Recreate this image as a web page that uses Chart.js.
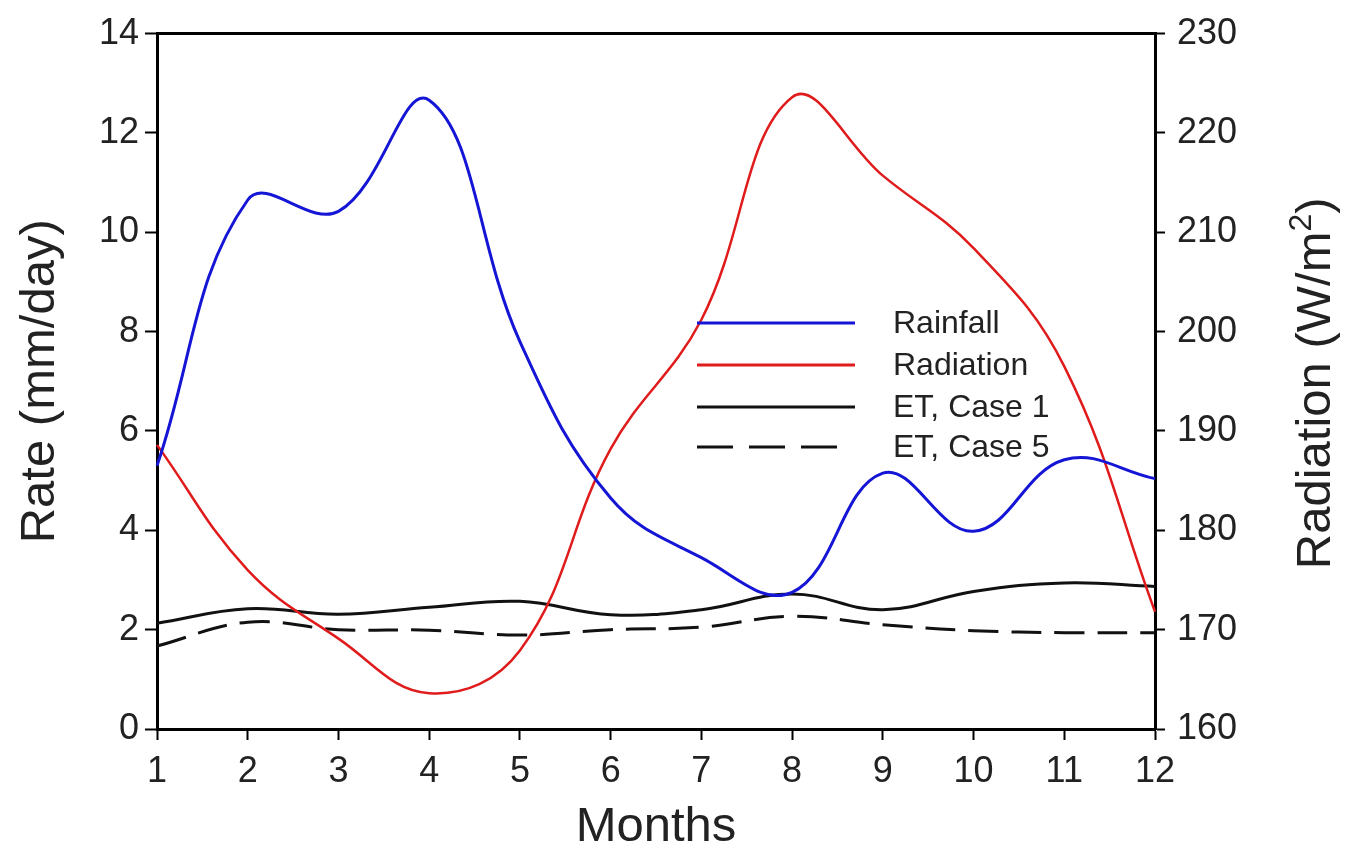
<!DOCTYPE html>
<html>
<head>
<meta charset="utf-8">
<script src="https://cdn.jsdelivr.net/npm/chart.js@4.4.0/dist/chart.umd.min.js"></script>
<style>
  html, body { margin: 0; padding: 0; background: #fff; }
  #wrap { width: 1356px; height: 852px; }
</style>
</head>
<body>
<div id="wrap"><canvas id="chart" width="1356" height="852"></canvas></div>
<script>
// months on the x axis
const months = ["1", "2", "3", "4", "5", "6", "7", "8", "9", "10", "11", "12"];

const rainfall = [5.3, 10.65, 10.42, 12.66, 7.8, 4.65, 3.45, 2.75, 5.15, 3.98, 5.42, 5.04];
const radiation = [188.6, 176.0, 169.1, 163.6, 167.9, 188.2, 201.2, 223.6, 215.7, 208.4, 196.5, 171.8];
const etCase1 = [2.13, 2.42, 2.31, 2.45, 2.57, 2.3, 2.4, 2.72, 2.4, 2.77, 2.94, 2.87];
const etCase5 = [1.67, 2.15, 2.0, 1.99, 1.89, 2.0, 2.05, 2.27, 2.1, 1.98, 1.94, 1.94];

const FONT = "'Liberation Sans', Arial, Helvetica, sans-serif";

// legend drawn inside the plot area
const innerLegend = {
  id: "innerLegend",
  afterDraw(chart) {
    const ctx = chart.ctx;
    const rows = [323, 365, 407, 447];
    ctx.save();
    chart.data.datasets.forEach((ds, i) => {
      const y = rows[i];
      ctx.beginPath();
      ctx.strokeStyle = ds.borderColor;
      ctx.lineWidth = 3;
      ctx.setLineDash(ds.borderDash ? [36, 16] : []);
      ctx.moveTo(697, y);
      ctx.lineTo(ds.borderDash ? 838 : 855, y);
      ctx.stroke();
      ctx.setLineDash([]);
      ctx.fillStyle = "#222";
      ctx.font = "32px " + FONT;
      ctx.textBaseline = "middle";
      ctx.fillText(ds.label, 893, y + 1);
    });
    ctx.restore();
  }
};

// top edge of the frame + right axis title (reads bottom to top)
const frameAndTitle = {
  id: "frameAndTitle",
  afterDraw(chart) {
    const a = chart.chartArea;
    const ctx = chart.ctx;
    ctx.save();
    ctx.strokeStyle = "#000";
    ctx.lineWidth = 3;
    ctx.beginPath();
    ctx.moveTo(a.left - 1, a.top);
    ctx.lineTo(a.right + 1, a.top);
    ctx.stroke();

    ctx.translate(1316, (a.top + a.bottom) / 2 + 2);
    ctx.rotate(-Math.PI / 2);
    ctx.fillStyle = "#222";
    ctx.textBaseline = "middle";
    ctx.font = "49px " + FONT;
    const main = "Radiation (W/m";
    const sup = "2";
    const close = ")";
    ctx.font = "49px " + FONT;
    const wMain = ctx.measureText(main).width;
    const wClose = ctx.measureText(close).width;
    ctx.font = "32px " + FONT;
    const wSup = ctx.measureText(sup).width;
    let x = -(wMain + wSup + wClose) / 2;
    ctx.font = "49px " + FONT;
    ctx.textAlign = "left";
    ctx.fillText(main, x, 0);
    x += wMain;
    ctx.font = "32px " + FONT;
    ctx.fillText(sup, x, -14);
    x += wSup;
    ctx.font = "49px " + FONT;
    ctx.fillText(close, x, 0);
    ctx.restore();
  }
};

const tickFont = { family: FONT, size: 36 };
const titleFont = { family: FONT, size: 49, lineHeight: 1 };

new Chart(document.getElementById("chart"), {
  type: "line",
  data: {
    labels: months,
    datasets: [
      { label: "Rainfall", data: rainfall, yAxisID: "y", borderColor: "#1515d6", borderWidth: 3, pointRadius: 0, tension: 0.4, fill: false },
      { label: "Radiation", data: radiation, yAxisID: "y1", borderColor: "#e01b1b", borderWidth: 2.5, pointRadius: 0, tension: 0.4, fill: false },
      { label: "ET, Case 1", data: etCase1, yAxisID: "y", borderColor: "#111", borderWidth: 3, pointRadius: 0, tension: 0.4, fill: false },
      { label: "ET, Case 5", data: etCase5, yAxisID: "y", borderColor: "#111", borderWidth: 3, borderDash: [30, 13], pointRadius: 0, tension: 0.4, fill: false }
    ]
  },
  options: {
    responsive: false,
    animation: false,
    layout: { padding: { top: 28, left: 0, right: 0, bottom: 0 } },
    plugins: {
      legend: { display: false },
      tooltip: { enabled: false }
    },
    scales: {
      x: {
        type: "category",
        offset: false,
        grid: { drawOnChartArea: false, drawTicks: true, tickLength: 11, tickColor: "#000", tickWidth: 2 },
        border: { color: "#000", width: 3 },
        ticks: { color: "#222", font: tickFont, maxRotation: 0, autoSkip: false, padding: 10 },
        title: { display: true, text: "Months", color: "#222", font: titleFont, padding: { top: 0, bottom: 0 } },
        afterFit: (s) => { s.height = 123; }
      },
      y: {
        position: "left",
        min: 0,
        max: 14,
        grid: { drawOnChartArea: false, drawTicks: true, tickLength: 12, tickColor: "#000", tickWidth: 2 },
        border: { color: "#000", width: 3 },
        ticks: { stepSize: 2, color: "#222", font: tickFont, padding: 6 },
        title: { display: true, text: "Rate (mm/day)", color: "#222", font: titleFont, padding: { top: 16, bottom: 0 } },
        afterFit: (s) => { s.width = 157; }
      },
      y1: {
        position: "right",
        min: 160,
        max: 230,
        grid: { drawOnChartArea: false, drawTicks: true, tickLength: 10, tickColor: "#000", tickWidth: 2 },
        border: { color: "#000", width: 3 },
        ticks: { stepSize: 10, color: "#222", font: tickFont, padding: 12 },
        title: { display: false },
        afterFit: (s) => { s.width = 201; }
      }
    }
  },
  plugins: [innerLegend, frameAndTitle]
});
</script>
</body>
</html>
